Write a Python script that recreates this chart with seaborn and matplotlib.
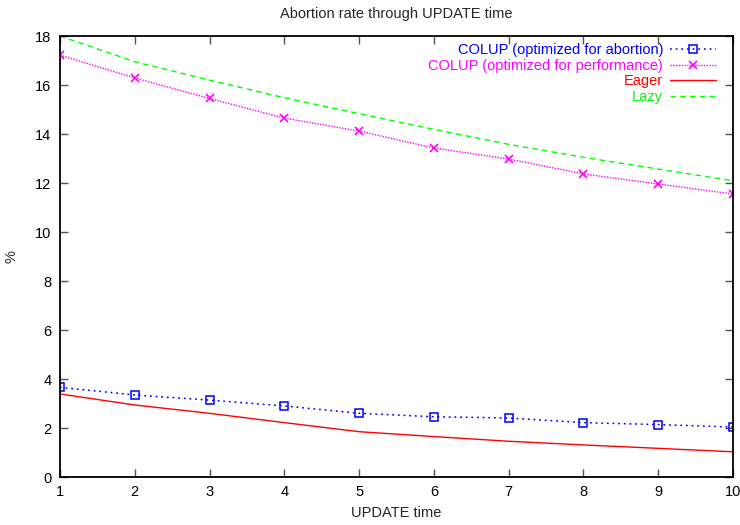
import numpy as np
import pandas as pd
import matplotlib
matplotlib.use("Agg")
import matplotlib.pyplot as plt
import seaborn as sns

# values
update_time = [1, 2, 3, 4, 5, 6, 7, 8, 9, 10]
colup_abortion = [3.66, 3.35, 3.14, 2.90, 2.60, 2.46, 2.41, 2.22, 2.14, 2.04]
colup_performance = [17.22, 16.29, 15.45, 14.65, 14.12, 13.43, 12.98, 12.37, 11.96, 11.55]
eager = [3.39, 2.94, 2.60, 2.22, 1.85, 1.65, 1.46, 1.31, 1.17, 1.03]
lazy = [18.0, 16.95, 16.2, 15.48, 14.83, 14.19, 13.58, 13.05, 12.57, 12.09]

sns.set_style("ticks")
plt.rcParams['font.family'] = ['Liberation Sans', 'DejaVu Sans']

fig = plt.figure(figsize=(7.4, 5.25), dpi=100)
ax = fig.add_axes([0.081, 0.0914, 0.9095, 0.84])

sns.lineplot(x=update_time, y=colup_abortion, ax=ax, color='#0000ff', linestyle=(0, (1.2, 2.5)),
             linewidth=1.1, marker='s', markersize=5.5, markerfacecolor='none', markeredgecolor='#0000ff',
             markeredgewidth=1.1, label='COLUP (optimized for abortion)')
sns.lineplot(x=update_time, y=colup_performance, ax=ax, color='#ff00ff', linestyle=(0, (1, 1)),
             linewidth=1.0, marker='x', markersize=5.5, markeredgewidth=1.2, markeredgecolor='#ff00ff',
             label='COLUP (optimized for performance)')
sns.lineplot(x=update_time, y=eager, ax=ax, color='#ff0000', linewidth=1.0, label='Eager')
sns.lineplot(x=update_time, y=lazy, ax=ax, color='#00ff00', linestyle=(0, (4, 3)), linewidth=1.0, label='Lazy')

ax.set_xlim(1, 10)
ax.set_ylim(0, 18)
ax.set_xticks(range(1, 11))
ax.set_yticks(range(0, 19, 2))
ax.tick_params(direction='in', length=6, width=1, color='#555555', labelsize=10.5, pad=6,
               top=True, right=True, labelcolor='black')
for s in ax.spines.values():
    s.set_visible(True)
    s.set_linewidth(1.3)
    s.set_color('black')

ax.set_title('Abortion rate through UPDATE time', fontsize=10.5, pad=13)
ax.set_xlabel('UPDATE time', fontsize=10.5, labelpad=5)
ax.set_ylabel('%', fontsize=10.5, labelpad=12)

leg = ax.legend(loc='upper right', frameon=False, markerfirst=False, labelcolor='linecolor',
                fontsize=10.5, handlelength=3.1, handletextpad=0.5, labelspacing=0.1,
                borderaxespad=0.1, bbox_to_anchor=(0.985, 1.0))

fig.savefig('out.png', dpi=100)
